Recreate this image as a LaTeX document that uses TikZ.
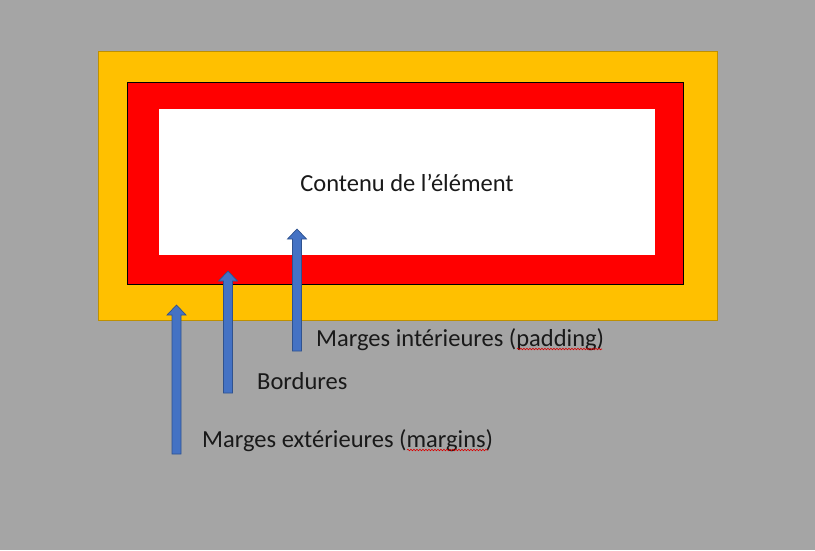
\documentclass[tikz,border=0pt]{standalone}
\usepackage{fontspec}
\setmainfont{Carlito}
\usepackage{tikz}
\usetikzlibrary{calc, positioning, decorations.pathmorphing}
\definecolor{bggray}{HTML}{A5A5A5}
\definecolor{marginorange}{HTML}{FFC000}
\definecolor{marginedge}{HTML}{BF9000}
\definecolor{borderred}{HTML}{FF0000}
\definecolor{arrowblue}{HTML}{4472C4}
\definecolor{arrowedge}{HTML}{2F528F}
\tikzset{
    label/.style={inner sep=0pt, font=\fontsize{24.5}{28}\selectfont, text=black!90},
    blockarrow/.style={draw=arrowedge, fill=arrowblue, line width=0.7pt, line join=miter,
        to path={($(\tikztostart)+(-4.5,0)$) -- ($(\tikztotarget)+(-4.5,10)$)
            -- ($(\tikztotarget)+(-9.5,10)$) -- (\tikztotarget) -- ($(\tikztotarget)+(9.5,10)$)
            -- ($(\tikztotarget)+(4.5,10)$) -- ($(\tikztostart)+(4.5,0)$) -- cycle}},
    squiggle/.style={draw=red!85!black, line width=0.6pt, decorate,
        decoration={snake, segment length=3pt, amplitude=0.8pt}}
}

\begin{document}
\begin{tikzpicture}[x=1pt, y=-1pt]
    % background
    \fill[bggray] (0,0) rectangle (815,550);
    \useasboundingbox (0,0) rectangle (815,550);
    % box model
    \draw[fill=marginorange, draw=marginedge, line width=0.8pt] (98,51) rectangle (717,320);
    \draw[fill=borderred, draw=black, line width=0.8pt] (127,82) rectangle (683,284);
    \fill[white] (159,109) rectangle (655,255);
    \node[label, anchor=base] (content) at (407,191) {Contenu de l’élément};
    % labels
    \node[label, anchor=base west] (padding) at (316,346) {Marges intérieures (padding)};
    \node[label, anchor=base west] (border) at (257,389) {Bordures};
    \node[label, anchor=base west] (margin) at (202,447) {Marges extérieures (margins)};
    \draw[squiggle] (517,349) -- (602,349);
    \draw[squiggle] (407,450) -- (488,450);
    % arrows
    \coordinate (padtail) at (297,351);
    \coordinate (padtip) at (297,229);
    \coordinate (bordtail) at (228,393);
    \coordinate (bordtip) at (228,271);
    \coordinate (margtail) at (176.5,454);
    \coordinate (margtip) at (176.5,305);
    \draw[blockarrow] (padtail) to (padtip);
    \draw[blockarrow] (bordtail) to (bordtip);
    \draw[blockarrow] (margtail) to (margtip);
\end{tikzpicture}
\end{document}
